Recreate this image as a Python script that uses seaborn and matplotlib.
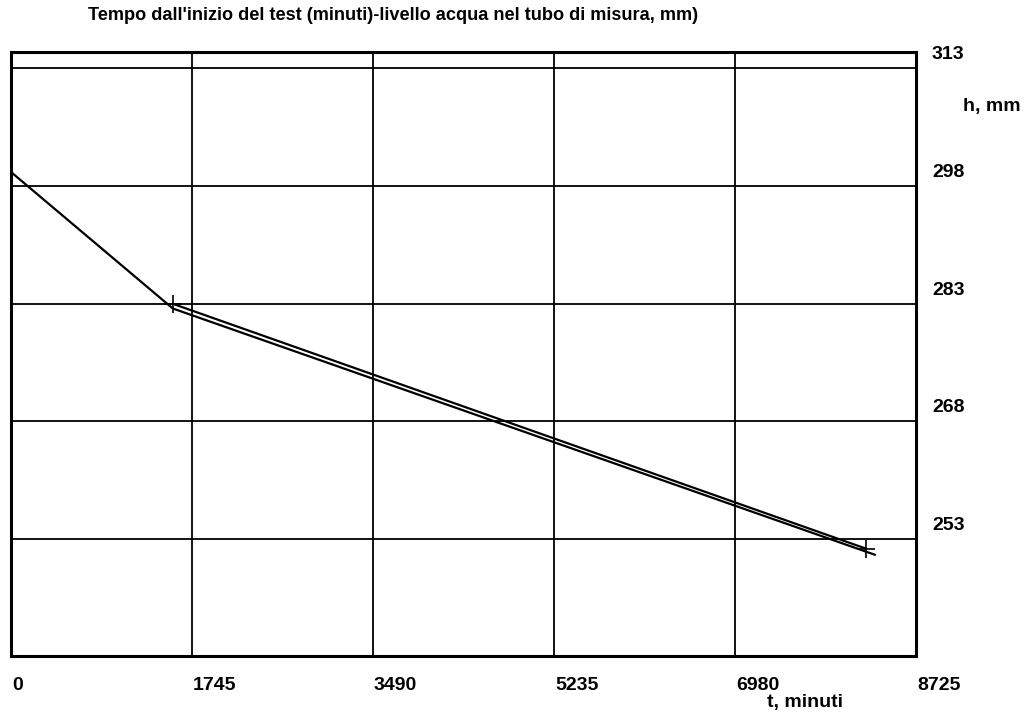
import pandas as pd
import seaborn as sns
import matplotlib.pyplot as plt
from matplotlib.transforms import offset_copy, blended_transform_factory

# Values
t_misura = [0, 1560, 8330]
h_misura = [299.8, 282.4, 251.0]
t_retta = [1560, 8240]
h_retta = [283.0, 251.8]
x_ticks = [0, 1745, 3490, 5235, 6980, 8725]
y_ticks = [253, 268, 283, 298, 313]
title = "Tempo dall'inizio del test (minuti)-livello acqua nel tubo di misura, mm)"


def main():
    sns.set_theme(style="white")
    plt.rcParams['font.family'] = ['Liberation Sans', 'DejaVu Sans']
    plt.rcParams['text.color'] = 'black'

    df1 = pd.DataFrame({"t": t_misura, "h": h_misura})
    df2 = pd.DataFrame({"t": t_retta, "h": h_retta})

    fig = plt.figure(figsize=(10.26, 7.22), dpi=100)
    ax = fig.add_axes([11 / 1026, 1 - 656 / 722, 905 / 1026, 604 / 722])

    # grid lines
    for x in x_ticks[1:-1]:
        ax.axvline(x, color="black", lw=1.3, zorder=1)
    for y in y_ticks:
        ax.axhline(y, color="black", lw=1.3, zorder=1)

    sns.lineplot(data=df1, x="t", y="h", color="black", lw=1.6, sort=False, ax=ax, zorder=3)
    sns.lineplot(data=df2, x="t", y="h", color="black", lw=1.6, sort=False, ax=ax, zorder=3)
    sns.scatterplot(data=df2, x="t", y="h", color="black", marker="+", s=160,
                    linewidth=1.2, ax=ax, zorder=4)

    ax.set_xlim(0, 8725)
    ax.set_ylim(238.1, 315.1)
    ax.set_xticks([])
    ax.set_yticks([])
    ax.set_xlabel("")
    ax.set_ylabel("")
    for s in ax.spines.values():
        s.set_visible(True)
        s.set_color("black")
        s.set_linewidth(2.2)

    fs = 14
    # right-hand tick labels, sitting above their grid lines
    trans_y = blended_transform_factory(ax.transAxes, ax.transData)
    for y in y_ticks:
        ax.text(1.0, y, str(y), transform=offset_copy(trans_y, fig=fig, x=16, y=5, units="dots"),
                ha="left", va="bottom", fontsize=fs, fontweight="bold", color="black")
    # bottom tick labels, left-aligned at the tick
    trans_x = blended_transform_factory(ax.transData, ax.transAxes)
    for x in x_ticks:
        ax.text(x, 0, str(x), transform=offset_copy(trans_x, fig=fig, x=1, y=-30, units="dots"),
                ha="left", va="center", fontsize=fs, fontweight="bold", color="black")

    fig.text(963 / 1026, 1 - 107 / 722, "h, mm", ha="left", va="center",
             fontsize=fs, fontweight="bold", color="black")
    fig.text(767 / 1026, 1 - 703 / 722, "t, minuti", ha="left", va="center",
             fontsize=fs, fontweight="bold", color="black")
    fig.text(88 / 1026, 1 - 16 / 722, title, ha="left", va="center",
             fontsize=13.1, fontweight="bold", color="black")

    fig.savefig("out.png", dpi=100)


if __name__ == "__main__":
    main()
